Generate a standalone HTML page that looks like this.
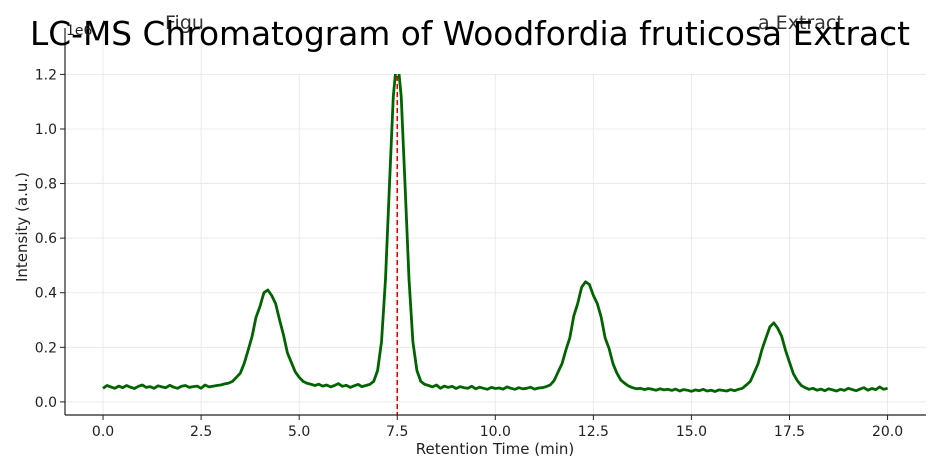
<!DOCTYPE html>
<html><head><meta charset="utf-8"><style>
body{margin:0;background:#fff;}
svg{display:block;font-family:"DejaVu Sans","Liberation Sans",sans-serif;}
</style></head><body>
<svg id="chart" width="940" height="471">
<g id="grid"></g>
<text x="165" y="29" font-size="19" fill="#333">Figu</text>
<text x="758" y="29" font-size="19" fill="#333">a Extract</text>
<g id="series"></g>
<rect x="207" y="0" width="526" height="74" fill="#fff"/>
<g id="axes"></g>
<text x="470" y="45" font-size="33" text-anchor="middle" fill="#000" textLength="880" lengthAdjust="spacingAndGlyphs">LC-MS Chromatogram of Woodfordia fruticosa Extract</text>
<text x="66" y="35" font-size="14" fill="#222">1e6</text>
<text x="495" y="454" font-size="15" text-anchor="middle" fill="#222">Retention Time (min)</text>
<text transform="translate(27,227) rotate(-90)" font-size="15" text-anchor="middle" fill="#222">Intensity (a.u.)</text>
</svg>
<script>
const t0 = 0, dt = 0.1;
const intensity = [
0.05,0.06,0.055,0.05,0.058,0.052,0.06,0.054,0.049,0.057,0.062,0.053,0.056,0.05,0.059,0.055,0.052,0.061,0.054,0.05,0.057,0.06,0.053,0.056,0.058,0.05,0.062,0.055,0.057,0.06,
0.062,0.066,0.069,0.075,0.09,0.105,0.142,0.19,0.24,0.31,0.35,0.40,0.41,0.39,0.36,0.30,0.245,0.18,0.145,0.11,0.09,0.075,0.068,0.065,0.06,
0.065,0.058,0.062,0.055,0.06,0.067,0.057,0.061,0.053,0.059,0.064,0.056,0.06,
0.064,0.075,0.115,0.22,0.45,0.79,1.12,1.27,1.12,0.79,0.45,0.22,0.115,0.075,0.064,
0.06,0.055,0.062,0.05,0.058,0.053,0.057,0.049,0.056,0.052,0.05,0.057,0.048,0.054,0.05,0.046,0.053,0.049,0.051,0.047,0.055,0.05,0.046,0.052,0.048,0.05,0.054,0.047,0.051,
0.052,0.056,0.062,0.078,0.11,0.14,0.19,0.235,0.315,0.36,0.42,0.44,0.43,0.39,0.36,0.31,0.235,0.195,0.14,0.105,0.08,0.068,0.058,
0.052,0.048,0.05,0.045,0.049,0.046,0.043,0.048,0.044,0.046,0.042,0.047,0.04,0.045,0.043,0.039,0.044,0.041,0.046,0.04,0.043,0.038,0.044,0.042,0.04,0.045,0.041,0.046,0.05,
0.062,0.075,0.107,0.14,0.192,0.235,0.275,0.29,0.27,0.24,0.188,0.145,0.103,0.078,0.06,
0.052,0.046,0.05,0.043,0.047,0.041,0.048,0.044,0.04,0.046,0.042,0.05,0.045,0.041,0.047,0.052,0.043,0.049,0.045,0.055,0.046,0.05];
const markerTime = [7.5];
const xTicks = [0,2.5,5,7.5,10,12.5,15,17.5,20];
const xTickLabels = ["0.0","2.5","5.0","7.5","10.0","12.5","15.0","17.5","20.0"];
const yTicks = [0,0.2,0.4,0.6,0.8,1.0,1.2];
const yTickLabels = ["0.0","0.2","0.4","0.6","0.8","1.0","1.2"];

const L=65,R=926,T=28,B=415;
const xMin=-0.97,xMax=20.98,yMin=-0.048,yMax=1.37;
const X=v=>L+(v-xMin)/(xMax-xMin)*(R-L);
const Y=v=>B-(v-yMin)/(yMax-yMin)*(B-T);
const NS="http://www.w3.org/2000/svg";
function mk(tag,attrs,parent,text){const e=document.createElementNS(NS,tag);for(const k in attrs)e.setAttribute(k,attrs[k]);if(text!==undefined)e.textContent=text;parent.appendChild(e);return e;}
const grid=document.getElementById('grid'),axes=document.getElementById('axes'),series=document.getElementById('series');
xTicks.forEach((v,i)=>{
 const g=mk('line',{x1:X(v),x2:X(v),y1:T,y2:B,stroke:'#e6e6e6','stroke-width':0.8},grid);
 
 
 const tk=mk('line',{x1:X(v),x2:X(v),y1:B,y2:B+5,stroke:'#222','stroke-width':1},axes);
 
 
 const tl=mk('text',{x:X(v),y:B+21,'font-size':14,'text-anchor':'middle',fill:'#222'},axes,xTickLabels[i]);
 
 
});
yTicks.forEach((v,i)=>{
 const g=mk('line',{x1:L,x2:R,y1:Y(v),y2:Y(v),stroke:'#e6e6e6','stroke-width':0.8},grid);
 
 
 const tk=mk('line',{x1:L-5,x2:L,y1:Y(v),y2:Y(v),stroke:'#222','stroke-width':1},axes);
 
 
 const tl=mk('text',{x:L-8,y:Y(v)+5,'font-size':14,'text-anchor':'end',fill:'#222'},axes,yTickLabels[i]);
 
 
});
const sl=mk('line',{x1:L,x2:L,y1:T,y2:B,stroke:'#222','stroke-width':1.2},axes);


const sb=mk('line',{x1:L,x2:R,y1:B,y2:B,stroke:'#222','stroke-width':1.2},axes);


const pts=intensity.map((v,i)=>X(t0+i*dt).toFixed(1)+','+Math.max(Y(v),T).toFixed(1)).join(' ');
const pl=mk('polyline',{points:pts,fill:'none',stroke:'#006400','stroke-width':2.8,'stroke-linejoin':'round'},series);


markerTime.forEach(m=>{
 const ml=mk('line',{x1:X(m),x2:X(m),y1:T,y2:B,stroke:'#e00000','stroke-width':1.5,'stroke-dasharray':'5,3'},series);
 
 
});
</script>
</body></html>
